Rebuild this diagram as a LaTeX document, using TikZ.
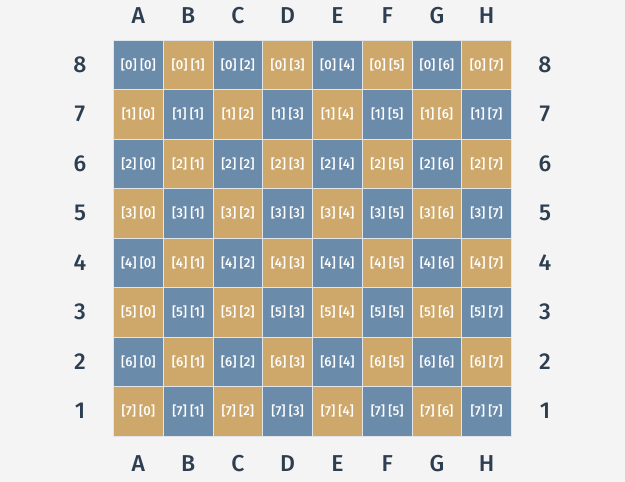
\documentclass[tikz,border=0pt]{standalone}
\usepackage{fontspec}
\setmainfont{Fira Sans}[UprightFont=* Medium]
\usetikzlibrary{positioning}
\definecolor{bgray}{RGB}{244, 244, 244}
\definecolor{sqblue}{RGB}{106, 139, 170}
\definecolor{sqgold}{RGB}{205, 168, 106}
\definecolor{inkblue}{RGB}{44, 62, 80}
\definecolor{gapgray}{RGB}{225, 228, 232}

\begin{document}
\begin{tikzpicture}[
  x=1pt, y=-1pt,
  sq/.style={draw=gapgray, line width=1pt, minimum width=49.75pt, minimum height=49.5pt, inner sep=0pt,
             text=white, font=\fontsize{13}{15}\selectfont},
  lbl/.style={text=inkblue, font=\fontsize{23}{26}\selectfont, inner sep=0pt}
]
  \fill[bgray] (0,0) rectangle (625,482);
  \useasboundingbox (0,0) rectangle (625,482);

  % squares, row 0 on top
  \foreach \r in {0,...,7} {
    \foreach \c in {0,...,7} {
      \pgfmathparse{mod(\r+\c,2)==0 ? "sqblue" : "sqgold"}
      \edef\sqcol{\pgfmathresult}
      \node[sq, fill=\sqcol] (s-\r-\c) at ({113.5+49.75*(\c+0.5)}, {40+49.5*(\r+0.5)}) {[\r] [\c]};
    }
  }

  % files and ranks
  \foreach \f [count=\c from 0] in {A,B,C,D,E,F,G,H} {
    \node[lbl] (top-\c) at ({113.5+49.75*(\c+0.5)}, 16) {\f};
    \node[lbl] (bot-\c) at ({113.5+49.75*(\c+0.5)}, 464) {\f};
  }
  \foreach \r in {0,...,7} {
    \pgfmathtruncatemacro\rank{8-\r}
    \node[lbl] (left-\r) at (80, {40+49.5*(\r+0.5)}) {\rank};
    \node[lbl] (right-\r) at (545, {40+49.5*(\r+0.5)}) {\rank};
  }
\end{tikzpicture}
\end{document}
